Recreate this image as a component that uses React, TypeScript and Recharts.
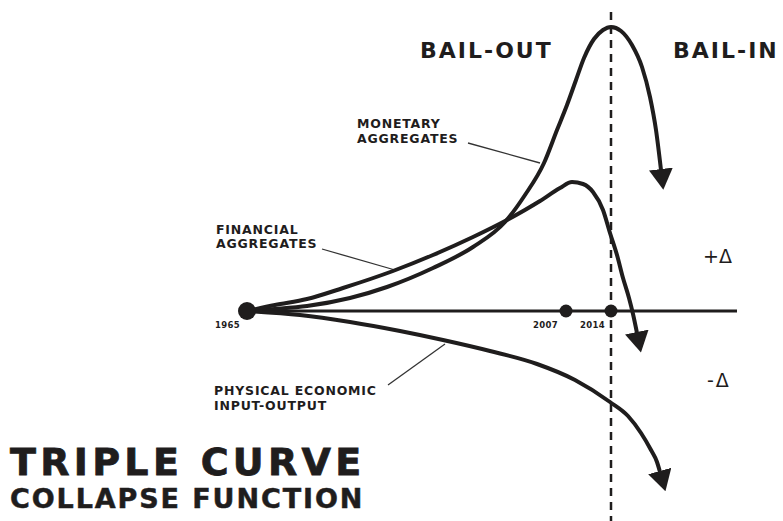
import React from 'react';
import { ComposedChart, Line, XAxis, YAxis, ReferenceLine, ReferenceDot } from 'recharts';

// horizontal progression (t) and distance from the zero line (delta)
const monetaryT = [247, 275, 307, 350, 387, 433, 473, 505, 525, 544, 557, 567, 576, 584, 594, 603, 611, 621, 632, 642, 650, 656, 661];
const monetaryDelta = [0, 2, 5, 13, 24, 43, 64, 89, 116, 148, 181, 206, 231, 253, 272, 281, 284, 280, 266, 244, 214, 181, 141];

const financialT = [247, 275, 307, 343, 393, 433, 473, 507, 540, 560, 572, 583, 593, 603, 610, 617, 623, 629, 633, 637];
const financialDelta = [0, 6, 12, 23, 40, 56, 74, 91, 110, 123, 129, 127, 119, 101, 78, 56, 33, 13, -3, -22];

const physicalT = [247, 300, 350, 400, 443, 490, 537, 575, 610, 628, 641, 651, 657, 660];
const physicalDelta = [0, -4, -11, -20, -29, -40, -53, -69, -91, -105, -122, -139, -151, -161];

const years = ['1965', '2007', '2014'];
const yearT = [247, 566, 611];
const yearDotR = [9, 6.5, 6.5];

const toRows = (t: number[], d: number[]) => t.map((v, i) => ({ t: v, delta: d[i] }));

const monetaryData = toRows(monetaryT, monetaryDelta);
const financialData = toRows(financialT, financialDelta);
const physicalData = toRows(physicalT, physicalDelta);

const INK = '#1f1d1d';
const FONT = '"DejaVu Sans", Arial, sans-serif';
const ZERO = 311; // pixel row of the zero line

const small = { fontFamily: FONT, fontWeight: 700, fontSize: 12.5, letterSpacing: 0.8, fill: INK };
const yearStyle = { ...small, fontSize: 8.5, letterSpacing: 0.3 };

export default function App() {
	return (
		<div style={{ position: 'absolute', left: 0, top: 0, width: 783, height: 521, background: '#fff' }}>
			<ComposedChart width={783} height={521} margin={{ top: 0, right: 0, bottom: 0, left: 0 }}>
				<defs>
					<marker
						id='arrow'
						viewBox='0 -12 21 24'
						refX={1}
						refY={0}
						markerWidth={21}
						markerHeight={24}
						markerUnits='userSpaceOnUse'
						orient='auto'
					>
						<path d='M0,-12 L21,0 L0,12 Z' fill={INK} />
					</marker>
				</defs>
				<XAxis type='number' dataKey='t' domain={[0, 783]} hide allowDataOverflow />
				<YAxis type='number' domain={[-210, 311]} hide allowDataOverflow />

				<ReferenceLine
					segment={[{ x: 247, y: 0 }, { x: 737, y: 0 }]}
					stroke={INK}
					strokeWidth={3}
				/>
				<ReferenceLine
					segment={[{ x: 611, y: 299 }, { x: 611, y: -210 }]}
					stroke={INK}
					strokeWidth={2.5}
					strokeDasharray='8 6'
				/>

				{/* label pointers */}
				<ReferenceLine segment={[{ x: 468, y: ZERO - 143 }, { x: 540, y: ZERO - 163 }]} stroke='#333' strokeWidth={1.3} />
				<ReferenceLine segment={[{ x: 322, y: ZERO - 249 }, { x: 395, y: ZERO - 270 }]} stroke='#333' strokeWidth={1.3} />
				<ReferenceLine segment={[{ x: 388, y: ZERO - 385 }, { x: 445, y: ZERO - 344 }]} stroke='#333' strokeWidth={1.3} />

				<Line
					data={monetaryData}
					dataKey='delta'
					type='monotone'
					stroke={INK}
					strokeWidth={4}
					dot={false}
					activeDot={false}
					markerEnd='url(#arrow)'
					isAnimationActive={false}
				/>
				<Line
					data={financialData}
					dataKey='delta'
					type='monotone'
					stroke={INK}
					strokeWidth={4}
					dot={false}
					activeDot={false}
					markerEnd='url(#arrow)'
					isAnimationActive={false}
				/>
				<Line
					data={physicalData}
					dataKey='delta'
					type='monotone'
					stroke={INK}
					strokeWidth={4}
					dot={false}
					activeDot={false}
					markerEnd='url(#arrow)'
					isAnimationActive={false}
				/>

				{yearT.map((t, i) => (
					<ReferenceDot key={years[i]} x={t} y={0} r={yearDotR[i]} fill={INK} stroke='none' />
				))}

				{/* year labels */}
				<text x={215} y={328} style={yearStyle}>1965</text>
				<text x={533} y={328} style={yearStyle}>2007</text>
				<text x={580} y={328} style={yearStyle}>2014</text>

				{/* curve labels */}
				<text style={small}>
					<tspan x={357} y={128}>MONETARY</tspan>
					<tspan x={357} y={143}>AGGREGATES</tspan>
				</text>
				<text style={small}>
					<tspan x={216} y={234}>FINANCIAL</tspan>
					<tspan x={216} y={248}>AGGREGATES</tspan>
				</text>
				<text style={small}>
					<tspan x={214} y={395}>PHYSICAL ECONOMIC</tspan>
					<tspan x={214} y={410}>INPUT-OUTPUT</tspan>
				</text>

				<text x={703} y={263} style={{ fontFamily: FONT, fontSize: 19, fill: INK }}>+Δ</text>
				<text x={707} y={387} style={{ fontFamily: FONT, fontSize: 19, fill: INK, letterSpacing: 2 }}>-Δ</text>

				<text x={420} y={58} style={{ fontFamily: FONT, fontWeight: 700, fontSize: 22, letterSpacing: 2, fill: INK }}>BAIL-OUT</text>
				<text x={673} y={58} style={{ fontFamily: FONT, fontWeight: 700, fontSize: 22, letterSpacing: 2, fill: INK }}>BAIL-IN</text>

				<text x={10} y={475} style={{ fontFamily: FONT, fontWeight: 700, fill: INK, stroke: INK, fontSize: 38, letterSpacing: 4.3, strokeWidth: 0.8 }}>
					TRIPLE CURVE
				</text>
				<text x={10} y={508} style={{ fontFamily: FONT, fontWeight: 700, fill: INK, stroke: INK, fontSize: 27, letterSpacing: 1.9, strokeWidth: 0.5 }}>
					COLLAPSE FUNCTION
				</text>
			</ComposedChart>
		</div>
	);
}
